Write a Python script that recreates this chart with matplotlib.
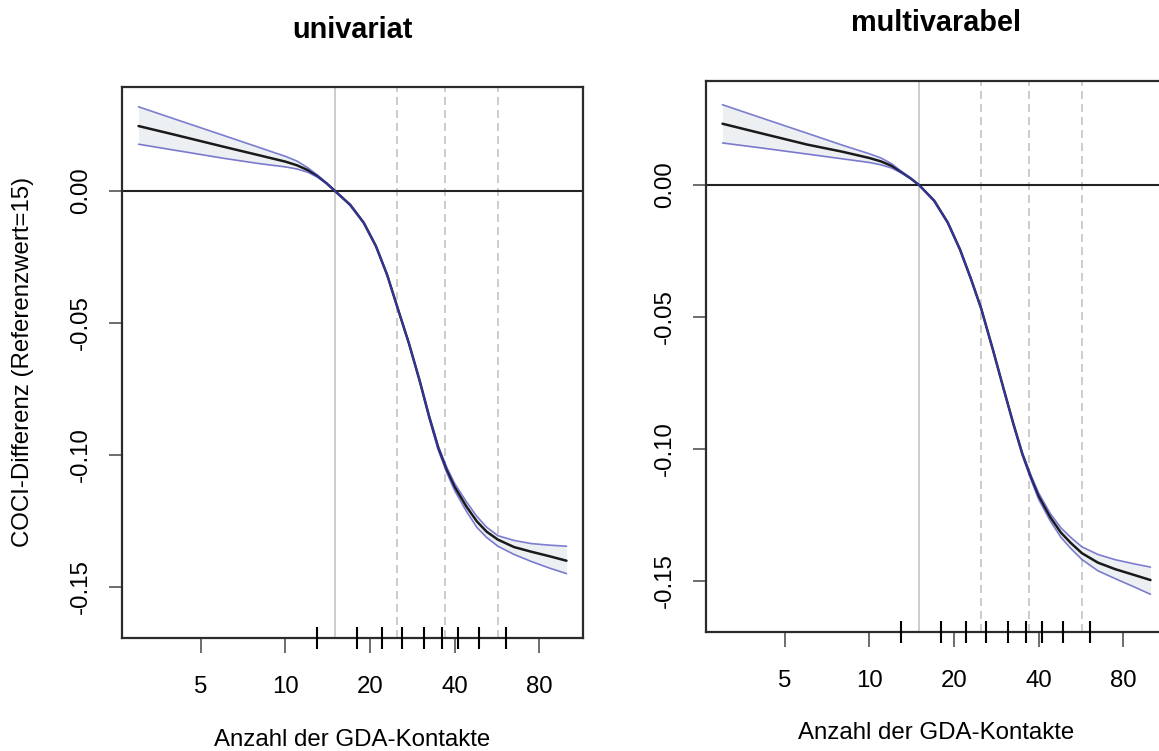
import matplotlib
matplotlib.use("Agg")
import matplotlib.pyplot as plt
import matplotlib.transforms as mtransforms
from matplotlib.ticker import NullLocator

plt.rcParams["font.family"] = ["Liberation Sans", "DejaVu Sans"]

# ==============================
# Data
# ==============================

# Number of GDA contacts (log scale)
contacts = [3, 4, 6, 8, 10, 11, 12, 13, 14, 15, 17, 19, 21, 23, 25, 27.5,
            30, 32.5, 35, 37.5, 40, 44, 48, 52, 57, 65, 75, 87, 100]

# univariate model: fitted COCI difference and 95% band
uni_fit = [0.0246, 0.0214, 0.0168, 0.0136, 0.0111, 0.0097, 0.0079, 0.0056,
           0.0029, 0.0, -0.0053, -0.0121, -0.0210, -0.0318, -0.0440,
           -0.0578, -0.0718, -0.0858, -0.0975, -0.1058, -0.1122, -0.1196,
           -0.1253, -0.1292, -0.1322, -0.1350, -0.1368, -0.1385, -0.1402]
uni_upper = [0.0319, 0.0274, 0.0211, 0.0166, 0.0131, 0.0113, 0.0088, 0.0060,
             0.0030, 0.0, -0.0051, -0.0119, -0.0208, -0.0316, -0.0438,
             -0.0576, -0.0715, -0.0853, -0.0968, -0.1048, -0.1109, -0.1178,
             -0.1234, -0.1275, -0.1307, -0.1325, -0.1337, -0.1343, -0.1347]
uni_lower = [0.0177, 0.0155, 0.0124, 0.0104, 0.0091, 0.0083, 0.0071, 0.0052,
             0.0028, 0.0, -0.0055, -0.0123, -0.0212, -0.0320, -0.0442,
             -0.0580, -0.0721, -0.0863, -0.0983, -0.1068, -0.1136, -0.1214,
             -0.1276, -0.1314, -0.1347, -0.1378, -0.1405, -0.1430, -0.1451]

# multivariable model
multi_fit = [0.0232, 0.0199, 0.0153, 0.0126, 0.0102, 0.0089, 0.0072, 0.0048,
             0.0025, 0.0, -0.0060, -0.0143, -0.0245, -0.0358, -0.0470,
             -0.0625, -0.0772, -0.0905, -0.1020, -0.1107, -0.1180, -0.1260,
             -0.1318, -0.1357, -0.1396, -0.1432, -0.1457, -0.1478, -0.1498]
multi_upper = [0.0304, 0.0259, 0.0196, 0.0151, 0.0118, 0.0102, 0.0080, 0.0051,
               0.0026, 0.0, -0.0058, -0.0141, -0.0243, -0.0356, -0.0468,
               -0.0623, -0.0770, -0.0902, -0.1016, -0.1099, -0.1168, -0.1246,
               -0.1300, -0.1336, -0.1372, -0.1401, -0.1421, -0.1436, -0.1449]
multi_lower = [0.0159, 0.0142, 0.0117, 0.0099, 0.0085, 0.0076, 0.0064, 0.0045,
               0.0024, 0.0, -0.0062, -0.0145, -0.0247, -0.0360, -0.0472,
               -0.0627, -0.0774, -0.0908, -0.1024, -0.1115, -0.1192, -0.1274,
               -0.1336, -0.1378, -0.1420, -0.1463, -0.1493, -0.1523, -0.1552]

ref_value = 15
knots = [25, 37, 57]
rug = [13, 18, 22, 26, 31, 36, 41, 49, 61]

x_ticks = [5, 10, 20, 40, 80]
y_ticks = [0.0, -0.05, -0.10, -0.15]

x_label = "Anzahl der GDA-Kontakte"
y_label = "COCI-Differenz (Referenzwert=15)"

# ==============================
# Layout (pixels on a 1159 x 751 canvas)
# ==============================

W, H = 1159, 751
FS = 17.3
FRAME = "#2b2b2b"
GRID_GREY = "#c4c4c4"
BAND_BLUE = "#3a3ab8"
BAND_FILL = "#edf0f3"


def px_rect(left, top, right, bottom):
    return [left / W, 1 - bottom / H, (right - left) / W, (bottom - top) / H]


def draw_panel(ax, fit, upper, lower):
    ax.set_xscale("log")
    ax.set_xlim(2.62, 114.5)
    ax.set_ylim(-0.1695, 0.0394)

    ax.fill_between(contacts, lower, upper, color=BAND_FILL, lw=0, zorder=1)
    ax.axvline(ref_value, color=GRID_GREY, lw=1.2, zorder=0)
    for k in knots:
        ax.axvline(k, color=GRID_GREY, lw=1.2, ls=(0, (4.8, 3)), zorder=0)
    ax.axhline(0, color="#222222", lw=1.5, zorder=2)

    line_kw = dict(solid_joinstyle="round", solid_capstyle="round")
    ax.plot(contacts, fit, color="#1a1a1a", lw=1.8, zorder=3, **line_kw)
    ax.plot(contacts, upper, color=BAND_BLUE, lw=1.2, alpha=0.65, zorder=4,
            **line_kw)
    ax.plot(contacts, lower, color=BAND_BLUE, lw=1.2, alpha=0.65, zorder=4,
            **line_kw)

    # rug of observed values across the x axis
    trans = mtransforms.blended_transform_factory(ax.transData, ax.transAxes)
    ax.vlines(rug, -0.02, 0.02, transform=trans, color="black", lw=1.5,
              clip_on=False, zorder=5)

    for s in ax.spines.values():
        s.set_color(FRAME)
        s.set_linewidth(1.6)

    ax.xaxis.set_minor_locator(NullLocator())
    ax.set_xticks(x_ticks, labels=[str(t) for t in x_ticks])
    ax.set_yticks(y_ticks, labels=[f"{t:.2f}" for t in y_ticks])
    ax.tick_params(axis="x", length=10.5, width=1.4, color="#6e6e6e",
                   pad=17, labelsize=FS)
    ax.tick_params(axis="y", length=9.4, width=1.4, color="#6e6e6e",
                   pad=20, labelsize=FS)
    plt.setp(ax.get_yticklabels(), rotation=90, ha="center", va="center")


fig = plt.figure(figsize=(W / 100, H / 100), dpi=100)

ax_uni = fig.add_axes(px_rect(122, 87, 583, 638))
ax_multi = fig.add_axes(px_rect(706, 81, 1167, 632))

draw_panel(ax_uni, uni_fit, uni_upper, uni_lower)
draw_panel(ax_multi, multi_fit, multi_upper, multi_lower)

fig.text(352 / W, 1 - 30 / H, "univariat", ha="center", va="center",
         fontsize=FS * 1.2, fontweight="bold")
fig.text(936 / W, 1 - 23 / H, "multivarabel", ha="center", va="center",
         fontsize=FS * 1.2, fontweight="bold")

fig.text(352 / W, 1 - 740 / H, x_label, ha="center", va="center", fontsize=FS)
fig.text(936 / W, 1 - 733 / H, x_label, ha="center", va="center", fontsize=FS)
fig.text(23 / W, 1 - 362 / H, y_label, ha="center", va="center",
         rotation=90, fontsize=FS)

fig.savefig("out.png", dpi=100)
